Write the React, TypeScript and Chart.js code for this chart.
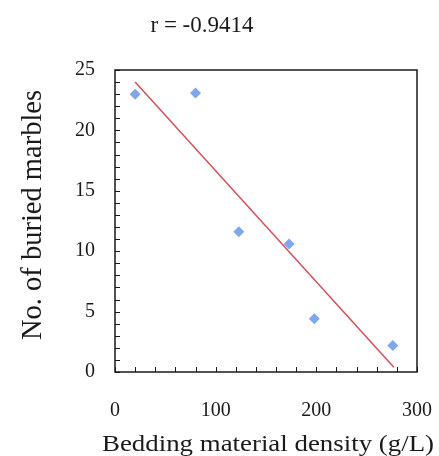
import React, { useEffect, useRef } from "react";
import { Chart, registerables } from "chart.js";

Chart.register(...registerables);

const densityX = [20, 80, 123, 173, 198, 276];
const marblesY = [23.0, 23.1, 11.6, 10.6, 4.4, 2.2];
const trendX = [20, 277];
const trendY = [24.0, 0.4];
const titleText = "r = -0.9414";
const xTitle = "Bedding material density (g/L)";
const yTitle = "No. of buried marbles";
const xMajorLabels = [0, 100, 200, 300];
const yMajorLabels = [0, 5, 10, 15, 20, 25];

const FONT = "'Liberation Serif', 'Times New Roman', serif";
const INK = "#1a1a1a";

const framePlugin = {
  id: "frameTicks",
  beforeDatasetsDraw(chart: any) {
    const { ctx, chartArea } = chart;
    const { left, right, top, bottom } = chartArea;
    ctx.save();
    ctx.strokeStyle = INK;
    ctx.lineWidth = 1;
    const xs = chart.scales.x;
    const ys = chart.scales.y;
    ctx.beginPath();
    xs.ticks.forEach((t: any) => {
      const px = Math.round(xs.getPixelForValue(t.value)) + 0.5;
      ctx.moveTo(px, bottom);
      ctx.lineTo(px, bottom - 5);
    });
    ys.ticks.forEach((t: any) => {
      const py = Math.round(ys.getPixelForValue(t.value)) + 0.5;
      ctx.moveTo(left, py);
      ctx.lineTo(left + 5, py);
    });
    ctx.stroke();
    ctx.lineWidth = 1.5;
    ctx.strokeRect(left, top, right - left, bottom - top);
    ctx.restore();
  },
  afterDraw(chart: any) {
    const { ctx } = chart;
    ctx.save();
    ctx.fillStyle = INK;
    ctx.font = `23px ${FONT}`;
    ctx.textAlign = "center";
    ctx.textBaseline = "middle";
    ctx.fillText(titleText, 202, 26);
    ctx.font = `24px ${FONT}`;
    ctx.textAlign = "left";
    ctx.textBaseline = "alphabetic";
    const w = ctx.measureText(xTitle).width;
    ctx.save();
    ctx.translate(102, 451);
    ctx.scale(332 / w, 1);
    ctx.fillText(xTitle, 0, 0);
    ctx.restore();
    ctx.font = `28.5px ${FONT}`;
    ctx.textAlign = "center";
    ctx.textBaseline = "alphabetic";
    ctx.save();
    ctx.translate(41, 215);
    ctx.rotate(-Math.PI / 2);
    ctx.fillText(yTitle, 0, 0);
    ctx.restore();
    ctx.restore();
  },
};

export default function App() {
  const ref = useRef<HTMLCanvasElement | null>(null);
  useEffect(() => {
    if (!ref.current) return;
    const chart = new Chart(ref.current, {
      type: "scatter",
      data: {
        datasets: [
          {
            label: "data",
            data: densityX.map((x, i) => ({ x, y: marblesY[i] })),
            pointStyle: "rectRot",
            pointRadius: 5.5,
            pointBackgroundColor: "#80a7ec",
            pointBorderColor: "#80a7ec",
            pointBorderWidth: 0,
            showLine: false,
          },
          {
            label: "trend",
            data: trendX.map((x, i) => ({ x, y: trendY[i] })),
            showLine: true,
            borderColor: "#d6505a",
            borderWidth: 1.5,
            pointRadius: 0,
            fill: false,
          },
        ],
      },
      options: {
        animation: false,
        responsive: false,
        maintainAspectRatio: false,
        layout: { padding: { top: 70, right: 22, left: 0, bottom: 0 } },
        plugins: {
          legend: { display: false },
          tooltip: { enabled: false },
          title: { display: false },
        },
        scales: {
          x: {
            type: "linear",
            min: 0,
            max: 300,
            afterFit: (s: any) => {
              s.height = 456 - 372;
              s.paddingLeft = 0;
              s.paddingRight = 0;
            },
            ticks: {
              stepSize: 20,
              autoSkip: false,
              maxRotation: 0,
              padding: 27,
              color: INK,
              font: { family: FONT, size: 20 },
              callback: (v: any) => (xMajorLabels.includes(Number(v)) ? String(v) : ""),
            },
            grid: { display: false, drawTicks: false },
            border: { display: false },
            title: { display: false },
          },
          y: {
            type: "linear",
            min: 0,
            max: 25,
            afterFit: (s: any) => {
              s.width = 115;
              s.paddingTop = 0;
              s.paddingBottom = 0;
            },
            ticks: {
              stepSize: 1,
              autoSkip: false,
              padding: 20,
              color: INK,
              font: { family: FONT, size: 20 },
              callback: (v: any) => (yMajorLabels.includes(Number(v)) ? String(v) : ""),
            },
            grid: { display: false, drawTicks: false },
            border: { display: false },
            title: { display: false },
          },
        },
      },
      plugins: [framePlugin],
    });
    return () => chart.destroy();
  }, []);
  return (
    <div style={{ position: "fixed", left: 0, top: 0, width: 439, height: 456, background: "#fff" }}>
      <canvas ref={ref} width={439} height={456} style={{ display: "block", width: 439, height: 456 }} />
    </div>
  );
}
